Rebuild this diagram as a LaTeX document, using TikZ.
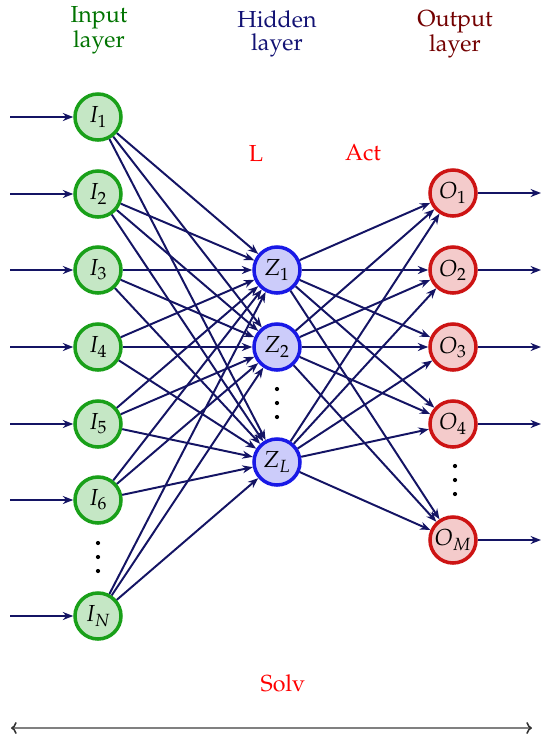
\documentclass[tikz,border=0pt]{standalone}
\usepackage[T1]{fontenc}
\usepackage{mathpazo}
\usetikzlibrary{arrows,arrows.meta}

\definecolor{navy}{RGB}{20,20,100}
\definecolor{ingreen}{RGB}{25,160,25}
\definecolor{hidblue}{RGB}{25,25,230}
\definecolor{outred}{RGB}{205,20,20}

\tikzset{
  neuron/.style={circle, minimum size=1.15cm, inner sep=0pt, line width=2.5pt},
  input neuron/.style={neuron, draw=ingreen, fill=ingreen!25},
  hidden neuron/.style={neuron, draw=hidblue, fill=hidblue!22},
  output neuron/.style={neuron, draw=outred, fill=outred!22},
  conn/.style={navy, line width=1.4pt, -{Stealth[length=2.6mm, width=2mm]}},
  layer title/.style={align=center},
  red label/.style={red}
}

\begin{document}
\begin{tikzpicture}[x=0.025cm, y=-0.025cm, font={\fontsize{16.5}{16.5}\selectfont}]
\useasboundingbox (0,0) rectangle (550,739);

% layers
\foreach \n/\y in {1/117,2/194,3/270,4/347,5/424,6/500,N/616}
  \node[input neuron] (I\n) at (98,\y) {$I_{\n}$};
\foreach \n/\y in {1/270,2/347,L/462}
  \node[hidden neuron] (Z\n) at (277,\y) {$Z_{\n}$};
\foreach \n/\y in {1/193,2/270,3/347,4/424,M/540}
  \node[output neuron] (O\n) at (453,\y) {$O_{\n}$};

% dots
\foreach \y in {543,557,571} \fill (98,\y) circle (1.5pt);
\foreach \y in {389,403,417} \fill (277,\y) circle (1.5pt);
\foreach \y in {466,480,494} \fill (455,\y) circle (1.5pt);

% inputs and outputs
\foreach \n/\y in {1/117,2/194,3/270,4/347,5/424,6/500,N/616} {
  \coordinate (in\n) at (10,\y);
  \draw[conn] (in\n) -- (I\n);
}
\foreach \n/\y in {1/193,2/270,3/347,4/424,M/540} {
  \coordinate (out\n) at (541,\y);
  \draw[conn] (O\n) -- (out\n);
}

% connections
\foreach \i in {1,2,3,4,5,6,N}
  \foreach \z in {1,2,L}
    \draw[conn] (I\i) -- (Z\z);
\foreach \z in {1,2,L}
  \foreach \o in {1,2,3,4,M}
    \draw[conn] (Z\z) -- (O\o);

% titles
\node[layer title, green!45!black] (intitle) at (99,30) {Input\\layer};
\node[layer title, navy!90!blue] (hidtitle) at (277,34) {Hidden\\layer};
\node[layer title, red!45!black] (outtitle) at (455,34) {Output\\layer};

\node[red label] (lab) at (256,153) {L};
\node[red label] (act) at (363,153) {Act};
\node[red label] (solv) at (283,683) {Solv};

\coordinate (solvL) at (11,728);
\coordinate (solvR) at (532,728);
\draw[gray, line width=1.1pt, {To[black!80]}-{To[black!80]}] (solvL) -- (solvR);

\end{tikzpicture}
\end{document}
